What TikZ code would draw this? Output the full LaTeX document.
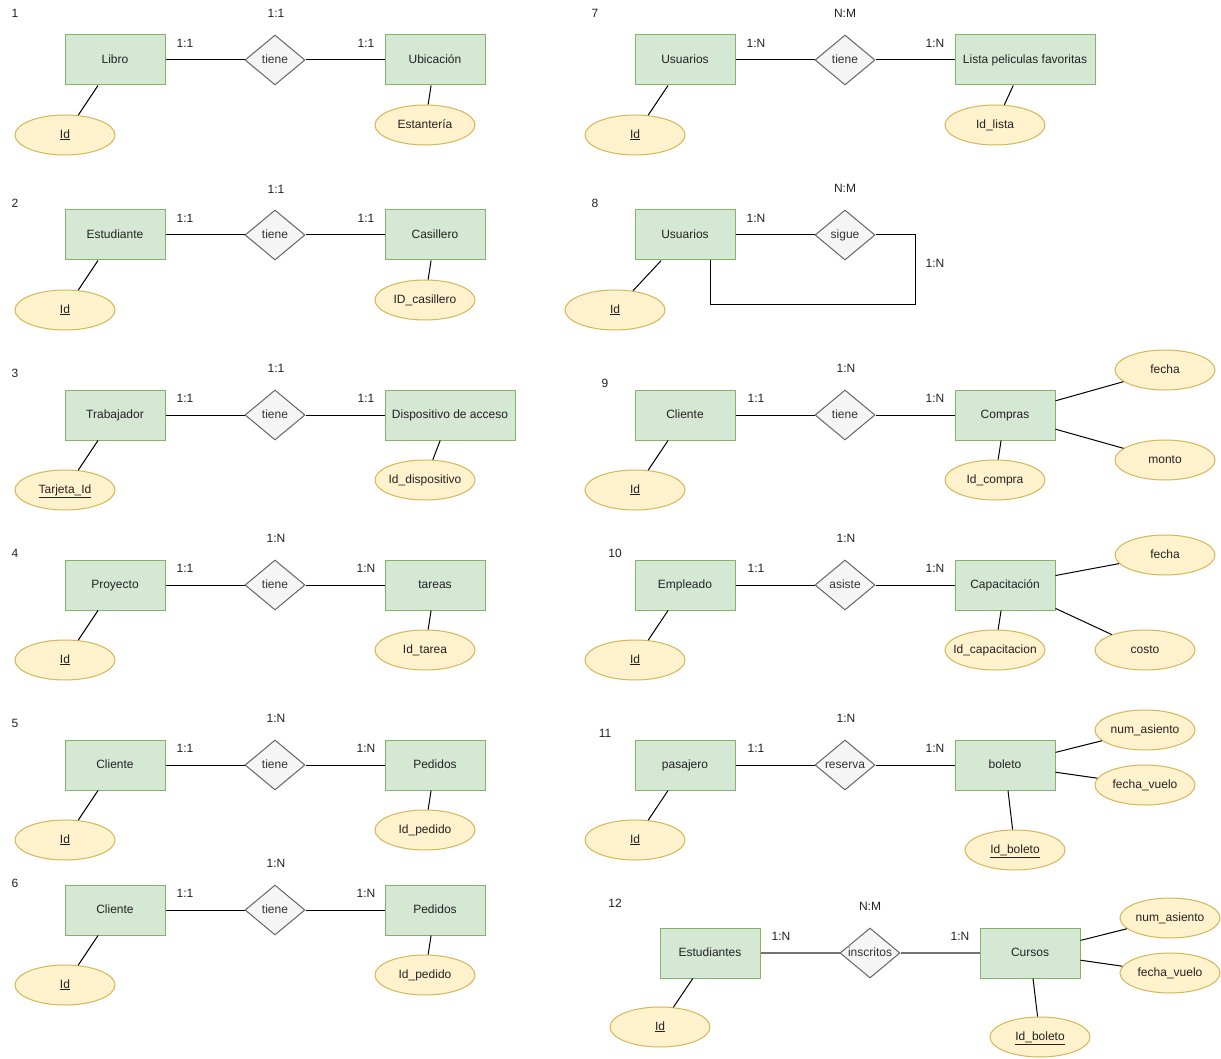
\documentclass[tikz,border=0pt]{standalone}
\usepackage{fontspec}
\setmainfont{Liberation Sans}
\usetikzlibrary{shapes.geometric}
\definecolor{entf}{HTML}{D5E8D4}
\definecolor{entd}{HTML}{82B366}
\definecolor{relf}{HTML}{F5F5F5}
\definecolor{reld}{HTML}{666666}
\definecolor{attf}{HTML}{FFF2CC}
\definecolor{attd}{HTML}{D6B656}
\definecolor{txt}{HTML}{222222}
\definecolor{reltxt}{HTML}{333333}
\newcommand{\mkz}[1]{\makebox[0pt]{#1}}
\tikzset{
  every node/.style={font=\fontsize{12}{14}\selectfont, text=txt, text height=8.8pt, text depth=2.6pt},
  ent/.style={draw=entd, fill=entf, rectangle, minimum width=100, minimum height=50, inner sep=0pt, line width=1pt},
  rel/.style={draw=reld, fill=relf, diamond, minimum width=60, minimum height=50, inner sep=0pt, line width=1pt, text=reltxt},
  att/.style={draw=attd, fill=attf, ellipse, minimum width=100, minimum height=40, inner sep=0pt, line width=1pt},
  lbl/.style={inner sep=0pt},
  ln/.style={draw=black, line width=1pt},
  lng/.style={draw=black!55, line width=1.6pt},
}
\begin{document}
\begin{tikzpicture}[x=1pt,y=-1pt]
\useasboundingbox (0,0) rectangle (1221,1059);
\fill[white] (0,0) rectangle (1221,1059);

% ---------- 1 ----------
\node[lbl] (n1) at (15,14) {1};
\node[lbl] (t1) at (276,14) {1:1};
\node[ent] (e1a) at (115,60) {\mkz{Libro}};
\node[rel] (r1) at (275,60) {\mkz{tiene}};
\node[ent] (e1b) at (435,60) {\mkz{Ubicación}};
\node[lbl] (c1a) at (185,44) {1:1};
\node[lbl] (c1b) at (366,44) {1:1};
\node[att] (a1a) at (65,135) {\mkz{\underline{Id}}};
\node[att] (a1b) at (425,125) {\mkz{Estantería}};
\draw[ln] (e1a) -- (r1); \draw[ln] (r1) -- (e1b);
\draw[ln] (e1a) -- (a1a); \draw[ln] (e1b) -- (a1b);

% ---------- 2 ----------
\node[lbl] (n2) at (15,204) {2};
\node[lbl] (t2) at (276,190) {1:1};
\node[ent] (e2a) at (115,235) {\mkz{Estudiante}};
\node[rel] (r2) at (275,235) {\mkz{tiene}};
\node[ent] (e2b) at (435,235) {\mkz{Casillero}};
\node[lbl] (c2a) at (185,219) {1:1};
\node[lbl] (c2b) at (366,219) {1:1};
\node[att] (a2a) at (65,310) {\mkz{\underline{Id}}};
\node[att] (a2b) at (425,300) {\mkz{ID\_casillero}};
\draw[ln] (e2a) -- (r2); \draw[ln] (r2) -- (e2b);
\draw[ln] (e2a) -- (a2a); \draw[ln] (e2b) -- (a2b);

% ---------- 3 ----------
\node[lbl] (n3) at (15,374) {3};
\node[lbl] (t3) at (276,369) {1:1};
\node[ent] (e3a) at (115,415) {\mkz{Trabajador}};
\node[rel] (r3) at (275,415) {\mkz{tiene}};
\node[ent, minimum width=130] (e3b) at (450,415) {\mkz{Dispositivo de acceso}};
\node[lbl] (c3a) at (185,399) {1:1};
\node[lbl] (c3b) at (366,399) {1:1};
\node[att] (a3a) at (65,490) {\mkz{\underline{Tarjeta\_Id}}};
\node[att] (a3b) at (425,480) {\mkz{Id\_dispositivo}};
\draw[ln] (e3a) -- (r3); \draw[ln] (r3) -- (e3b);
\draw[ln] (e3a) -- (a3a); \draw[ln] (e3b) -- (a3b);

% ---------- 4 ----------
\node[lbl] (n4) at (15,554) {4};
\node[lbl] (t4) at (276,539) {1:N};
\node[ent] (e4a) at (115,585) {\mkz{Proyecto}};
\node[rel] (r4) at (275,585) {\mkz{tiene}};
\node[ent] (e4b) at (435,585) {\mkz{tareas}};
\node[lbl] (c4a) at (185,569) {1:1};
\node[lbl] (c4b) at (366,569) {1:N};
\node[att] (a4a) at (65,660) {\mkz{\underline{Id}}};
\node[att] (a4b) at (425,650) {\mkz{Id\_tarea}};
\draw[ln] (e4a) -- (r4); \draw[ln] (r4) -- (e4b);
\draw[ln] (e4a) -- (a4a); \draw[ln] (e4b) -- (a4b);

% ---------- 5 ----------
\node[lbl] (n5) at (15,724) {5};
\node[lbl] (t5) at (276,719) {1:N};
\node[ent] (e5a) at (115,765) {\mkz{Cliente}};
\node[rel] (r5) at (275,765) {\mkz{tiene}};
\node[ent] (e5b) at (435,765) {\mkz{Pedidos}};
\node[lbl] (c5a) at (185,749) {1:1};
\node[lbl] (c5b) at (366,749) {1:N};
\node[att] (a5a) at (65,840) {\mkz{\underline{Id}}};
\node[att] (a5b) at (425,830) {\mkz{Id\_pedido}};
\draw[ln] (e5a) -- (r5); \draw[ln] (r5) -- (e5b);
\draw[ln] (e5a) -- (a5a); \draw[ln] (e5b) -- (a5b);

% ---------- 6 ----------
\node[lbl] (n6) at (15,884) {6};
\node[lbl] (t6) at (276,864) {1:N};
\node[ent] (e6a) at (115,910) {\mkz{Cliente}};
\node[rel] (r6) at (275,910) {\mkz{tiene}};
\node[ent] (e6b) at (435,910) {\mkz{Pedidos}};
\node[lbl] (c6a) at (185,894) {1:1};
\node[lbl] (c6b) at (366,894) {1:N};
\node[att] (a6a) at (65,985) {\mkz{\underline{Id}}};
\node[att] (a6b) at (425,975) {\mkz{Id\_pedido}};
\draw[ln] (e6a) -- (r6); \draw[ln] (r6) -- (e6b);
\draw[ln] (e6a) -- (a6a); \draw[ln] (e6b) -- (a6b);

% ---------- 7 ----------
\node[lbl] (n7) at (595,14) {7};
\node[lbl] (t7) at (845,14) {N:M};
\node[ent] (e7a) at (685,60) {\mkz{Usuarios}};
\node[rel] (r7) at (845,60) {\mkz{tiene}};
\node[ent, minimum width=140] (e7b) at (1025,60) {\mkz{Lista peliculas favoritas}};
\node[lbl] (c7a) at (756,44) {1:N};
\node[lbl] (c7b) at (935,44) {1:N};
\node[att] (a7a) at (635,135) {\mkz{\underline{Id}}};
\node[att] (a7b) at (995,125) {\mkz{Id\_lista}};
\draw[ln] (e7a) -- (r7); \draw[ln] (r7) -- (e7b);
\draw[ln] (e7a) -- (a7a); \draw[ln] (e7b) -- (a7b);

% ---------- 8 ----------
\node[lbl] (n8) at (595,204) {8};
\node[lbl] (t8) at (845,189) {N:M};
\node[ent] (e8a) at (685,235) {\mkz{Usuarios}};
\node[rel] (r8) at (845,235) {\mkz{sigue}};
\node[lbl] (c8a) at (756,219) {1:N};
\node[lbl] (c8b) at (935,264) {1:N};
\node[att] (a8a) at (615,310) {\mkz{\underline{Id}}};
\coordinate (k8) at (915,305);
\coordinate (b8) at (710,260);
\draw[ln] (e8a) -- (r8);
\draw[ln] (r8.east) -| (k8) -| (b8);
\draw[ln] (e8a) -- (a8a);

% ---------- 9 ----------
\node[lbl] (n9) at (605,384) {9};
\node[lbl] (t9) at (846,369) {1:N};
\node[ent] (e9a) at (685,415) {\mkz{Cliente}};
\node[rel] (r9) at (845,415) {\mkz{tiene}};
\node[ent] (e9b) at (1005,415) {\mkz{Compras}};
\node[lbl] (c9a) at (756,399) {1:1};
\node[lbl] (c9b) at (935,399) {1:N};
\node[att] (a9a) at (635,490) {\mkz{\underline{Id}}};
\node[att] (a9b) at (995,480) {\mkz{Id\_compra}};
\node[att] (a9c) at (1165,370) {\mkz{fecha}};
\node[att] (a9d) at (1165,460) {\mkz{monto}};
\draw[ln] (e9a) -- (r9); \draw[ln] (r9) -- (e9b);
\draw[ln] (e9a) -- (a9a); \draw[ln] (e9b) -- (a9b);
\draw[ln] (e9b) -- (a9c); \draw[ln] (e9b) -- (a9d);

% ---------- 10 ----------
\node[lbl] (n10) at (615,554) {10};
\node[lbl] (t10) at (846,539) {1:N};
\node[ent] (e10a) at (685,585) {\mkz{Empleado}};
\node[rel] (r10) at (845,585) {\mkz{asiste}};
\node[ent] (e10b) at (1005,585) {\mkz{Capacitación}};
\node[lbl] (c10a) at (756,569) {1:1};
\node[lbl] (c10b) at (935,569) {1:N};
\node[att] (a10a) at (635,660) {\mkz{\underline{Id}}};
\node[att] (a10b) at (995,650) {\mkz{Id\_capacitacion}};
\node[att] (a10c) at (1165,555) {\mkz{fecha}};
\node[att] (a10d) at (1145,650) {\mkz{costo}};
\draw[ln] (e10a) -- (r10); \draw[ln] (r10) -- (e10b);
\draw[ln] (e10a) -- (a10a); \draw[ln] (e10b) -- (a10b);
\draw[ln] (e10b) -- (a10c); \draw[ln] (e10b) -- (a10d);

% ---------- 11 ----------
\node[lbl] (n11) at (605,734) {11};
\node[lbl] (t11) at (846,719) {1:N};
\node[ent] (e11a) at (685,765) {\mkz{pasajero}};
\node[rel] (r11) at (845,765) {\mkz{reserva}};
\node[ent] (e11b) at (1005,765) {\mkz{boleto}};
\node[lbl] (c11a) at (756,749) {1:1};
\node[lbl] (c11b) at (935,749) {1:N};
\node[att] (a11a) at (635,840) {\mkz{\underline{Id}}};
\node[att] (a11b) at (1015,850) {\mkz{\underline{Id\_boleto}}};
\node[att] (a11c) at (1145,730) {\mkz{num\_asiento}};
\node[att] (a11d) at (1145,785) {\mkz{fecha\_vuelo}};
\draw[ln] (e11a) -- (r11); \draw[ln] (r11) -- (e11b);
\draw[ln] (e11a) -- (a11a); \draw[ln] (e11b) -- (a11b);
\draw[ln] (e11b) -- (a11c); \draw[ln] (e11b) -- (a11d);

% ---------- 12 ----------
\node[lbl] (n12) at (615,904) {12};
\node[lbl] (t12) at (870,907) {N:M};
\node[ent] (e12a) at (710,953) {\mkz{Estudiantes}};
\node[rel] (r12) at (870,953) {\mkz{inscritos}};
\node[ent] (e12b) at (1030,953) {\mkz{Cursos}};
\node[lbl] (c12a) at (781,937) {1:N};
\node[lbl] (c12b) at (960,937) {1:N};
\node[att] (a12a) at (660,1027) {\mkz{\underline{Id}}};
\node[att] (a12b) at (1040,1037) {\mkz{\underline{Id\_boleto}}};
\node[att] (a12c) at (1170,918) {\mkz{num\_asiento}};
\node[att] (a12d) at (1170,973) {\mkz{fecha\_vuelo}};
\draw[lng] (e12a) -- (r12); \draw[lng] (r12) -- (e12b);
\draw[ln] (e12a) -- (a12a); \draw[ln] (e12b) -- (a12b);
\draw[ln] (e12b) -- (a12c); \draw[ln] (e12b) -- (a12d);
\end{tikzpicture}
\end{document}
